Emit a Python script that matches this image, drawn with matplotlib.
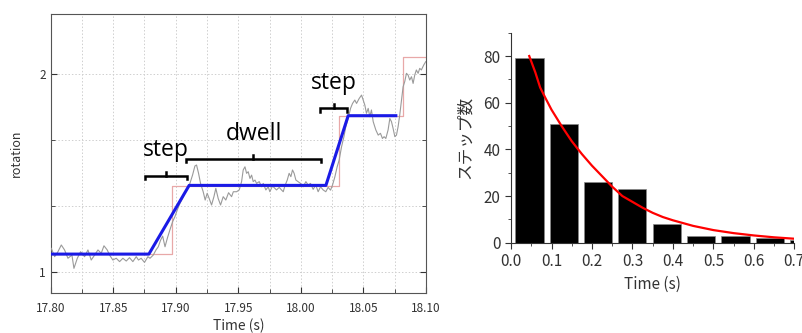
import numpy as np
import matplotlib
matplotlib.use("Agg")
import matplotlib.pyplot as plt
from matplotlib.ticker import MultipleLocator, FixedLocator

plt.rcParams['font.family'] = ['Noto Sans CJK JP', 'DejaVu Sans']

# ---- left panel: rotation trace ----
trace_t = [17.8005, 17.8032, 17.8058, 17.8085, 17.8111, 17.8138, 17.8170, 17.8186, 17.8213, 17.8239,
           17.8271, 17.8298, 17.8324, 17.8351, 17.8378, 17.8404, 17.8426, 17.8452, 17.8471, 17.8497,
           17.8524, 17.8551, 17.8577, 17.8604, 17.8630, 17.8657, 17.8684, 17.8702, 17.8723, 17.8750,
           17.8777, 17.8794, 17.8820, 17.8842, 17.8860, 17.8879, 17.8895, 17.8914, 17.8932, 17.8953,
           17.8975, 17.8993, 17.9012, 17.9033, 17.9054, 17.9073, 17.9092, 17.9113, 17.9134, 17.9153,
           17.9166, 17.9182, 17.9198, 17.9219, 17.9235, 17.9251, 17.9267, 17.9286, 17.9305, 17.9320,
           17.9339, 17.9358, 17.9379, 17.9400, 17.9422, 17.9446, 17.9460, 17.9486, 17.9507, 17.9526,
           17.9539, 17.9553, 17.9566, 17.9579, 17.9593, 17.9606, 17.9619, 17.9633, 17.9646, 17.9667,
           17.9686, 17.9699, 17.9720, 17.9739, 17.9752, 17.9773, 17.9792, 17.9805, 17.9827, 17.9845,
           17.9859, 17.9872, 17.9891, 17.9906, 17.9920, 17.9933, 17.9946, 17.9960, 17.9978, 17.9997,
           18.0018, 18.0040, 18.0058, 18.0077, 18.0098, 18.0119, 18.0138, 18.0157, 18.0178, 18.0199,
           18.0218, 18.0237, 18.0253, 18.0272, 18.0290, 18.0306, 18.0325, 18.0344, 18.0359, 18.0378,
           18.0397, 18.0413, 18.0431, 18.0445, 18.0466, 18.0485, 18.0498, 18.0511, 18.0524, 18.0538,
           18.0551, 18.0564, 18.0578, 18.0599, 18.0618, 18.0636, 18.0652, 18.0665, 18.0679, 18.0697,
           18.0711, 18.0724, 18.0737, 18.0751, 18.0764, 18.0777, 18.0790, 18.0804, 18.0817, 18.0830,
           18.0844, 18.0857, 18.0870, 18.0884, 18.0897, 18.0910, 18.0923, 18.0937, 18.0950, 18.0963,
           18.0982, 18.0998]
trace_rot = [1.118, 1.076, 1.101, 1.135, 1.110, 1.068, 1.084, 1.017, 1.068, 1.101,
             1.076, 1.110, 1.059, 1.084, 1.110, 1.093, 1.131, 1.110, 1.084, 1.059,
             1.068, 1.051, 1.068, 1.054, 1.071, 1.051, 1.076, 1.059, 1.068, 1.047,
             1.076, 1.068, 1.084, 1.110, 1.126, 1.160, 1.180, 1.126, 1.168, 1.211,
             1.253, 1.278, 1.312, 1.345, 1.370, 1.396, 1.421, 1.446, 1.488, 1.534,
             1.539, 1.497, 1.446, 1.404, 1.362, 1.396, 1.370, 1.337, 1.379, 1.421,
             1.370, 1.337, 1.379, 1.362, 1.399, 1.379, 1.404, 1.404, 1.413, 1.455,
             1.514, 1.530, 1.497, 1.505, 1.471, 1.488, 1.455, 1.463, 1.446, 1.455,
             1.429, 1.446, 1.413, 1.429, 1.404, 1.433, 1.421, 1.413, 1.426, 1.413,
             1.404, 1.433, 1.463, 1.497, 1.480, 1.514, 1.497, 1.463, 1.455, 1.446,
             1.429, 1.455, 1.438, 1.446, 1.416, 1.438, 1.404, 1.429, 1.413, 1.404,
             1.426, 1.412, 1.438, 1.480, 1.530, 1.564, 1.631, 1.682, 1.732, 1.774,
             1.825, 1.850, 1.867, 1.850, 1.875, 1.892, 1.867, 1.842, 1.800, 1.825,
             1.783, 1.817, 1.758, 1.716, 1.690, 1.699, 1.673, 1.682, 1.673, 1.716,
             1.774, 1.758, 1.724, 1.682, 1.690, 1.732, 1.791, 1.867, 1.934, 1.960,
             2.002, 1.993, 1.968, 1.985, 1.951, 1.993, 2.019, 2.002, 2.027, 2.019,
             2.044, 2.061]

# fitted ramp model (blue)
fit_t = [17.800, 17.8785, 17.9107, 18.0200, 18.0378, 18.0759]
fit_rot = [1.089, 1.089, 1.436, 1.436, 1.788, 1.788]

# step-detection result (pink)
steps_t = [17.800, 17.8967, 18.0305, 18.0816, 18.100]
steps_rot = [1.089, 1.434, 1.788, 2.086, 2.086]

# brackets: (label, start, end, y)
brackets = [("step", 17.8752, 17.9093, 1.483),
            ("dwell", 17.9078, 18.0164, 1.568),
            ("step", 18.0156, 18.0368, 1.825)]

# ---- right panel: dwell-time histogram ----
bin_centers = [0.0457, 0.1306, 0.2146, 0.2994, 0.3847, 0.4700, 0.5550, 0.6400, 0.7250]
counts = [79, 51, 26, 23, 8, 3, 3, 2, 1]
fit_x = [0.045, 0.06, 0.072, 0.085, 0.10, 0.125, 0.15, 0.175, 0.20, 0.225, 0.25, 0.275,
         0.30, 0.325, 0.35, 0.375, 0.40, 0.45, 0.50, 0.55, 0.60, 0.65, 0.70]
fit_y = [80, 73, 66.5, 62, 57, 50, 43.5, 38, 33, 28.5, 24, 20,
         17.5, 15, 12.8, 11, 9.6, 7.2, 5.4, 4.1, 3.1, 2.3, 1.7]

fig = plt.figure(figsize=(8.03, 3.33), dpi=100)

ax1 = fig.add_axes([0.0631, 0.121, 0.4674, 0.836])
ax1.plot(steps_t, steps_rot, drawstyle='steps-post', color='#e8a8a8', lw=0.9, zorder=2)
ax1.plot(trace_t, trace_rot, color='#9a9a9a', lw=0.8, zorder=3)
ax1.plot(fit_t, fit_rot, color='#1a1ae6', lw=2.2, zorder=4)

for label, a, b, y in brackets:
    mid = (a + b) / 2
    ax1.plot([a, a, b, b], [y - 0.016, y, y, y - 0.016], color='black', lw=1.8,
             solid_joinstyle='miter', zorder=5)
    ax1.plot([mid, mid], [y, y + 0.02], color='black', lw=1.8, zorder=5)
    ax1.text(mid, y + 0.13, label, ha='center', va='center', fontsize=16.5,
             family=['Open Sans', 'DejaVu Sans'], color='black', zorder=6)

ax1.set_xlim(17.80, 18.10)
ax1.set_ylim(0.894, 2.30)
ax1.xaxis.set_minor_locator(MultipleLocator(0.025))
ax1.set_xticks([17.80, 17.85, 17.90, 17.95, 18.00, 18.05, 18.10])
ax1.set_xticklabels(['17.80', '17.85', '17.90', '17.95', '18.00', '18.05', '18.10'])
ax1.yaxis.set_major_locator(FixedLocator([1, 2]))
ax1.yaxis.set_minor_locator(FixedLocator([1 + 1 / 3, 1 + 2 / 3]))
ax1.set_yticklabels(['1', '2'])
ax1.grid(True, which='both', color='#cfcfcf', ls=(0, (1.5, 2)), lw=0.7)
ax1.set_axisbelow(True)
ax1.tick_params(which='both', direction='in', right=True, labelsize=8.5, colors='#333', length=4)
ax1.tick_params(axis='x', pad=7)
ax1.tick_params(which='minor', length=3)
for sp in ax1.spines.values():
    sp.set_color('#555')
ax1.set_xlabel('Time (s)', fontsize=10, color='#333', labelpad=2)
ax1.set_ylabel('rotation', fontsize=9, color='#333', labelpad=12)

ax2 = fig.add_axes([0.6364, 0.2712, 0.3528, 0.6306])
ax2.bar(bin_centers, counts, width=0.07, color='black', edgecolor='#888', lw=0.5, zorder=2)
ax2.plot(fit_x, fit_y, color='#ff0000', lw=1.6, zorder=3)
ax2.set_xlim(0, 0.7)
ax2.set_ylim(0, 90)
ax2.set_xticks(np.arange(0, 0.71, 0.1))
ax2.set_xticklabels(['0.0', '0.1', '0.2', '0.3', '0.4', '0.5', '0.6', '0.7'])
ax2.xaxis.set_minor_locator(MultipleLocator(0.05))
ax2.set_yticks([0, 20, 40, 60, 80])
ax2.yaxis.set_minor_locator(MultipleLocator(10))
ax2.spines['top'].set_visible(False)
ax2.spines['right'].set_visible(False)
for sp in ('left', 'bottom'):
    ax2.spines[sp].set_color('#333')
ax2.tick_params(which='both', direction='out', labelsize=11, colors='#333', length=4)
ax2.tick_params(which='minor', length=2)
ax2.set_xlabel('Time (s)', fontsize=11, color='#333', labelpad=4)
ax2.set_ylabel('ステップ数', fontsize=12, color='#333', labelpad=7)

fig.savefig('out.png', dpi=100)
